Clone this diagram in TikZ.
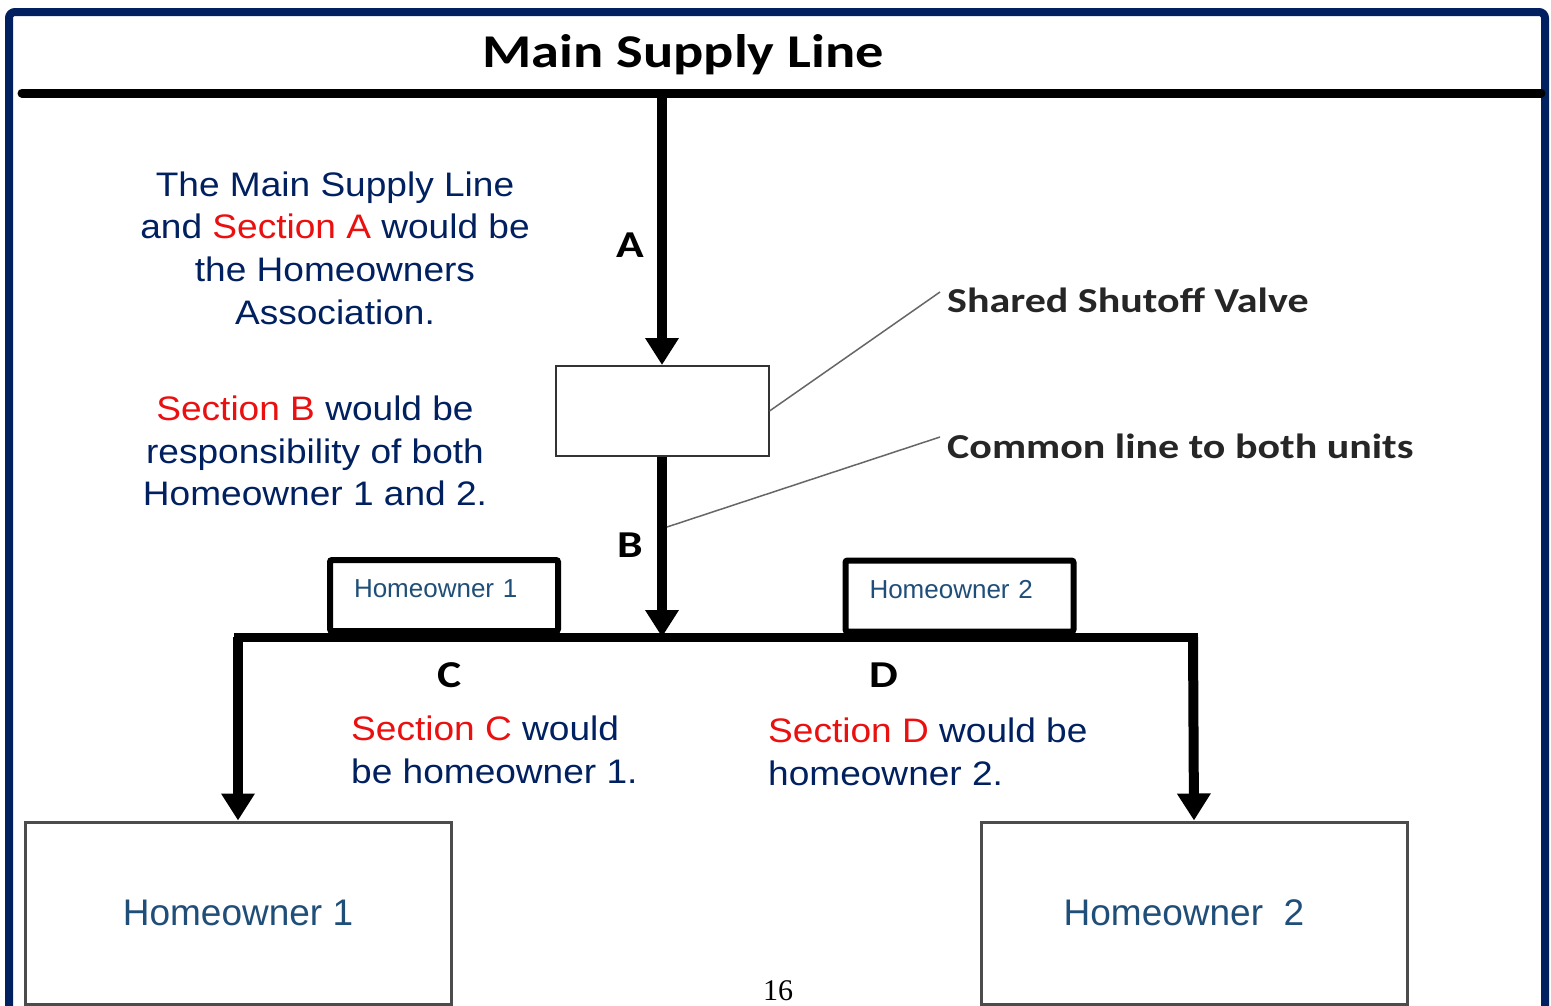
\documentclass[tikz,border=0pt]{standalone}
\usepackage{fontspec}
\usepackage{xcolor}
\usetikzlibrary{arrows.meta}
\setmainfont{Liberation Sans}
\newfontfamily\TagFont{Carlito}[FakeStretch=1.2]
\newfontfamily\NoteFont{Liberation Sans}[FakeStretch=1.09]
\newfontfamily\PageFont{Liberation Serif}
\definecolor{Navy}{RGB}{0,32,96}
\definecolor{SecRed}{RGB}{235,16,16}
\definecolor{OwnBlue}{RGB}{31,78,121}
\tikzstyle{Frame}=[draw=Navy,line width=8pt,rounded corners=6pt]
\tikzstyle{Pipe}=[draw=black,line width=9pt]
\tikzstyle{Flow}=[draw=black,line width=10pt,-{Triangle[width=32pt,length=27pt]}]
\tikzstyle{Valve}=[rectangle,draw=black!80,line width=2pt,minimum width=213pt,
minimum height=90pt,inner sep=0pt]
\tikzstyle{Unit}=[rectangle,draw=black!70,line width=3pt,minimum width=426pt,
minimum height=182pt,inner sep=0pt,text=OwnBlue,
font=\fontsize{37}{40}\selectfont]
\tikzstyle{Owner}=[rectangle,draw=black,line width=6pt,rounded corners=2pt,
minimum width=228pt,minimum height=71pt,inner sep=0pt,text width=180pt,
align=left,text depth=13pt,text=OwnBlue,font=\fontsize{26}{30}\selectfont]
\tikzstyle{Letter}=[font=\TagFont\bfseries\fontsize{38}{38}\selectfont,inner sep=0pt]
\tikzstyle{Callout}=[font=\TagFont\bfseries\fontsize{35}{35}\selectfont,
inner sep=0pt,anchor=west,text=black!85]
\tikzstyle{Lead}=[draw=black!60,line width=1.5pt]
\tikzstyle{Note}=[font=\NoteFont\fontsize{34}{42.7}\selectfont,text=Navy,inner sep=0pt]
\newcommand{\Sec}[1]{\textcolor{SecRed}{#1}}

\begin{document}
\begin{tikzpicture}[x=1pt,y=-1pt]
        \useasboundingbox(0,0)rectangle(1551,1005);
        \clip(0,0)rectangle(1551,1005);
        \fill[white](0,0)rectangle(1551,1005);
        \draw[Frame](9,1100)|-(1545,12)--(1545,1100);
        \coordinate(ml)at(22,93);
        \coordinate(mr)at(1541,93);
        \coordinate(tapA)at(662,93);
        \coordinate(split)at(662,637);
        \coordinate(cl)at(238,637);
        \coordinate(cr)at(1193,637);
        \coordinate(bjoint)at(667,527);
        \node[font=\TagFont\bfseries\fontsize{47}{47}\selectfont](title)at(683,55)
            {Main Supply Line};
        \node[Valve](valve)at(662,411){};
        \node[Letter](la)at(630,245){A};
        \node[Letter](lb)at(630,545){B};
        \node[Letter](lc)at(450,675){C};
        \node[Letter](ld)at(884,675){D};
        \node[Owner](tag1)at(444,595.5){Homeowner 1};
        \node[Owner](tag2)at(959.5,596){Homeowner 2};
        \node[Unit](unit1)at(238,913){Homeowner 1};
        \node[Unit](unit2)at(1194,913){Homeowner\ \ 2\kern20pt};
        \node[Callout](vtag)at(947,300){Shared Shutoff Valve};
        \node[Callout](ltag)at(947,446){Common line to both units};
        \node[Note,align=center](note1)at(335,248)
            {The Main Supply Line\\and \Sec{Section A} would be\\the Homeowners\\Association.};
        \node[Note,align=center](note2)at(315,451)
            {\Sec{Section B} would be\\responsibility of both\\Homeowner 1 and 2.};
        \node[Note,align=left,anchor=west](note3)at(351,750)
            {\Sec{Section C} would\\be homeowner 1.};
        \node[Note,align=left,anchor=west](note4)at(768,752)
            {\Sec{Section D} would be\\homeowner 2.};
        \node[font=\PageFont\fontsize{30}{30}\selectfont](page)at(778,991){16};
        \draw[Pipe,line cap=round](ml)--(mr);
        \draw[Pipe,line cap=rect](cl)--(cr);
        \draw[Flow](tapA)--(valve.north);
        \draw[Flow](valve.south)--(split);
        \draw[Flow](cl)--(unit1.north);
        \draw[Flow](cr)--(unit2.north);
        \draw[Lead](valve.east)--([shift={(-7pt,8pt)}]vtag.west);
        \draw[Lead](bjoint)--([shift={(-7pt,9pt)}]ltag.west);
    \end{tikzpicture}
\end{document}
